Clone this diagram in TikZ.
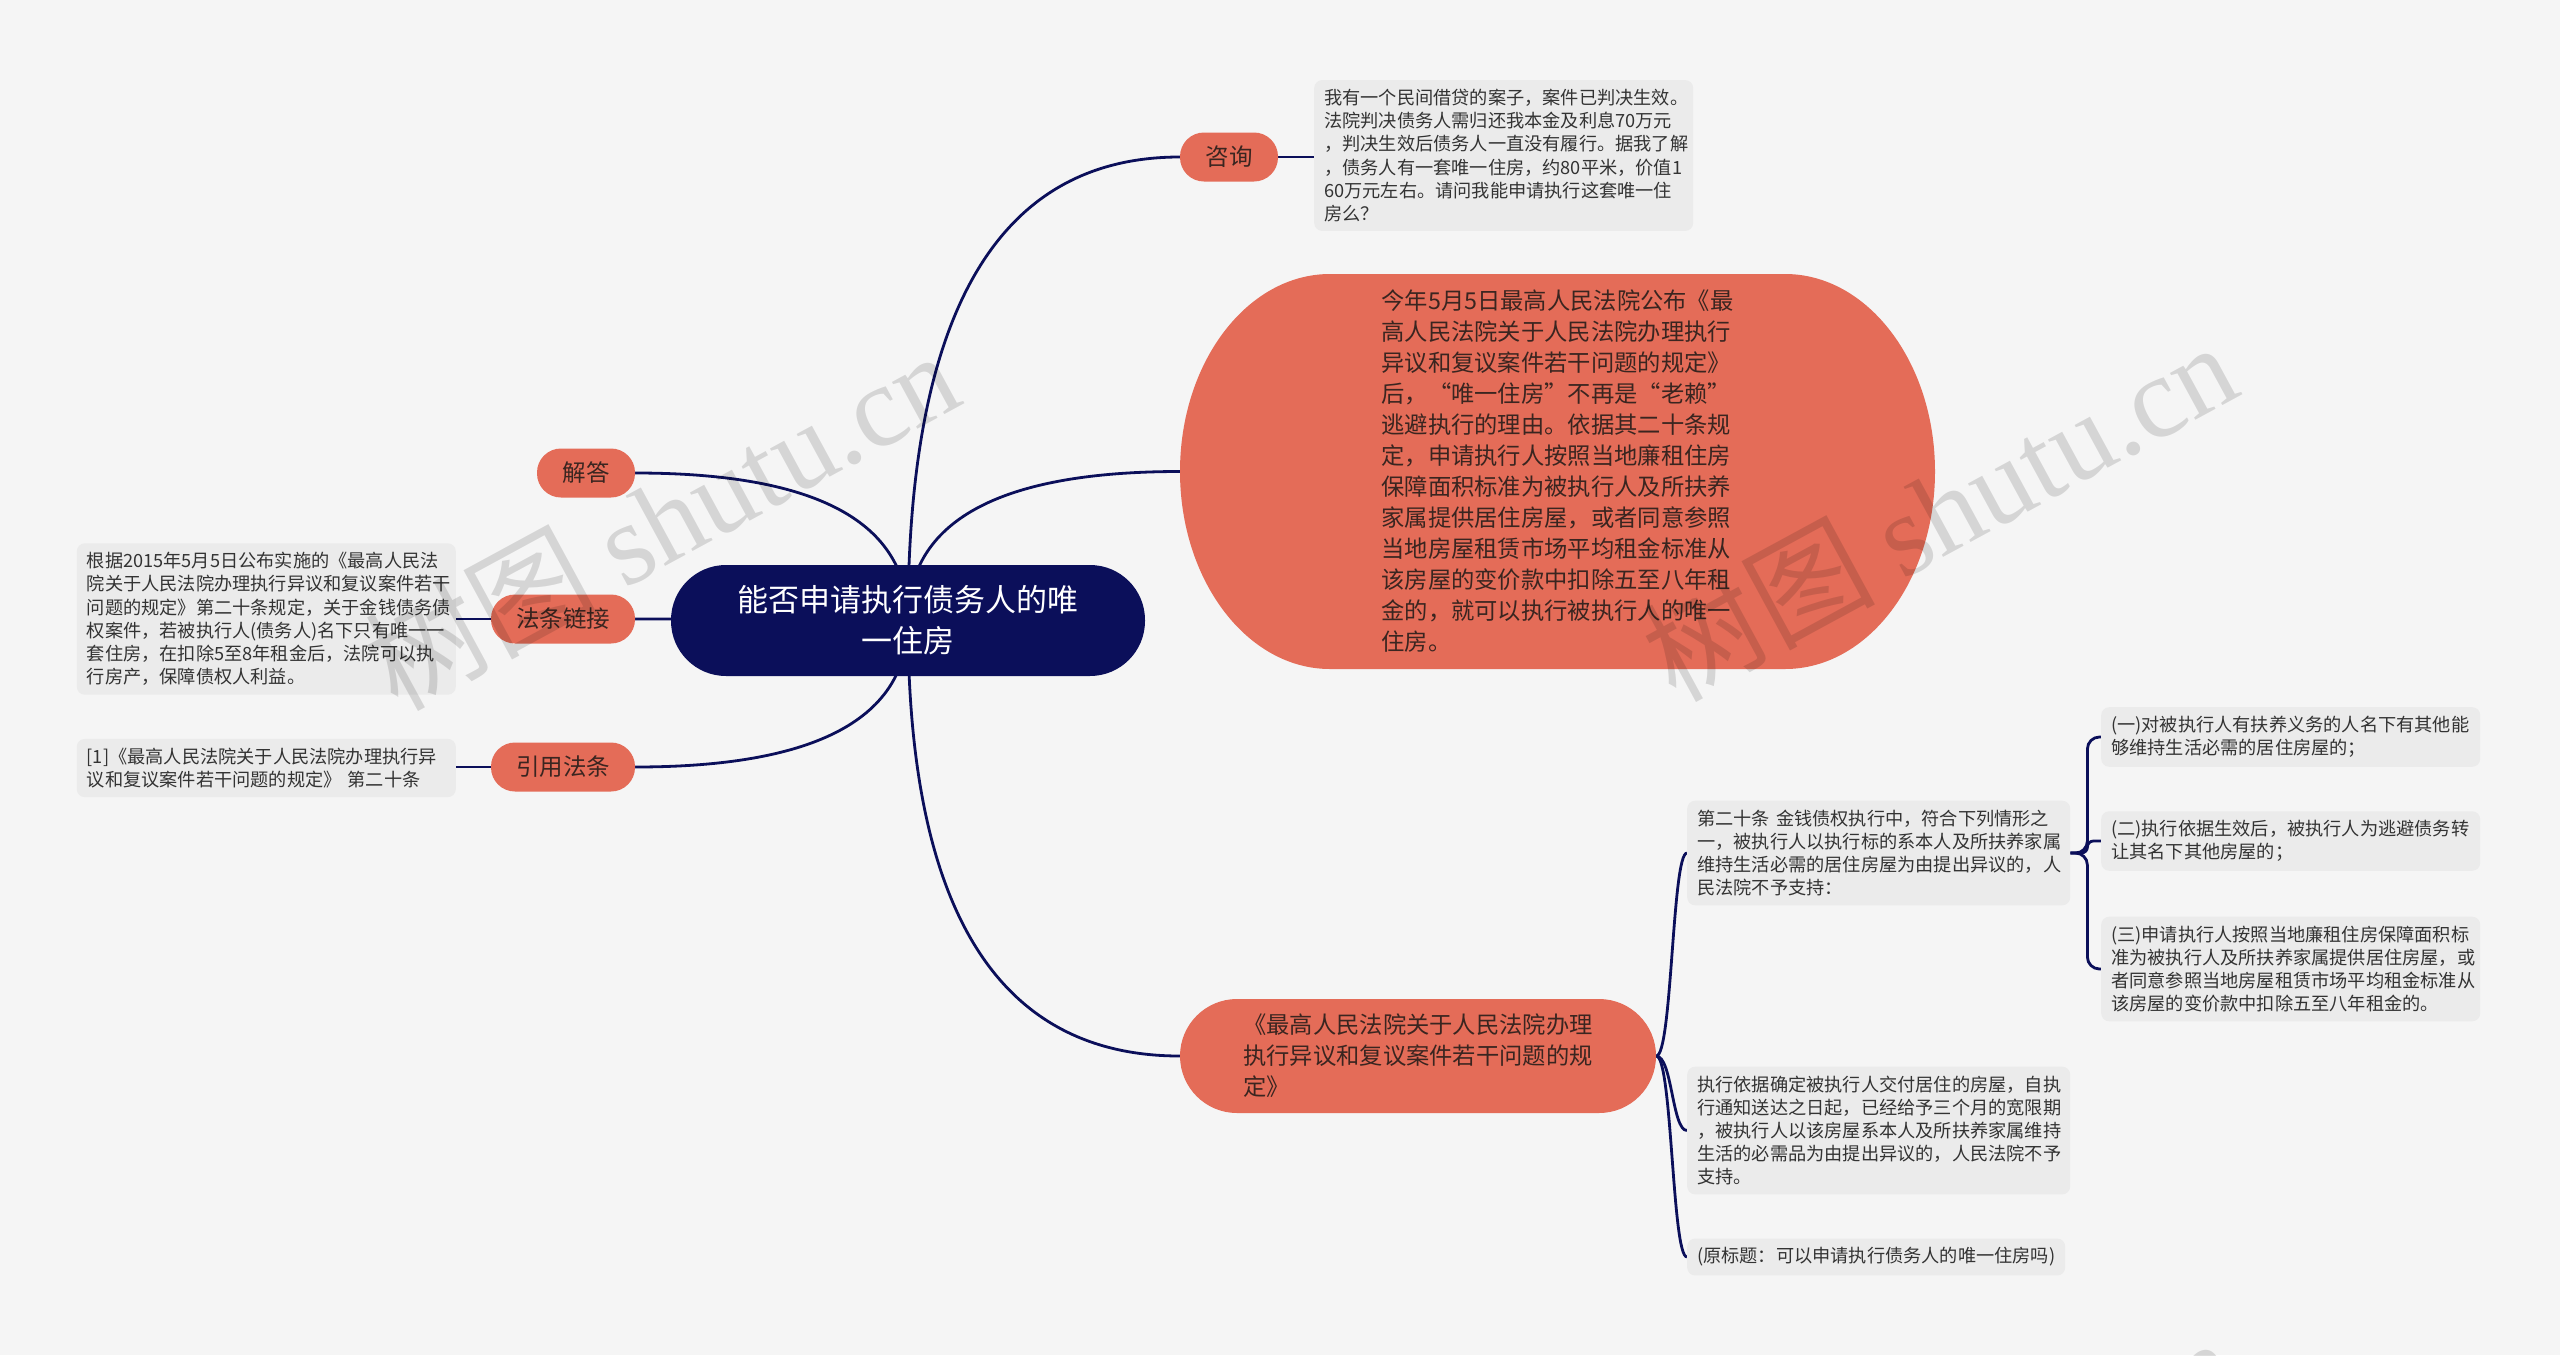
\documentclass[tikz,border=0pt]{standalone}
\usepackage{fontspec}
\setmainfont{Noto Sans CJK SC}
\newfontfamily\wmlatin{Liberation Serif}
\usetikzlibrary{calc}
\definecolor{bgc}{HTML}{F5F5F5}
\definecolor{navy}{HTML}{0B0F5A}
\definecolor{redc}{HTML}{E46C58}
\definecolor{boxc}{HTML}{EBEBEB}
\definecolor{txtc}{HTML}{333333}
\definecolor{redtxt}{HTML}{3A2520}
\pgfdeclarelayer{bg}\pgfdeclarelayer{shape}\pgfsetlayers{bg,shape,main}
\newcommand\leaffont{\fontsize{18.2}{23.2}\selectfont}
\newcommand\midfont{\fontsize{23.3}{31}\selectfont}
\newcommand\rootfont{\fontsize{31}{41}\selectfont}
\newcommand\rootlink[1]{\draw[conn] (root.center) .. controls ($(root.center)!0.667!(root.center|-#1)$) and ($(#1)!0.667!(root.center|-#1)$) .. (#1);}
\begin{document}
\begin{tikzpicture}[x=1pt,y=-1pt,
  conn/.style={draw=navy,line width=2.8pt},
  leaf/.style={fill=boxc,rounded corners=8pt,inner xsep=10pt,inner ysep=9pt,text width=#1,align=left,font=\leaffont,text=txtc},
  leaf/.default=359pt,
  pill/.style={fill=redc,text=redtxt,rounded corners=24pt,minimum height=49pt,inner sep=0pt,font=\fontsize{23.5}{28}\selectfont},
  rootbox/.style={fill=navy,text=white,rounded corners=55pt,minimum width=474pt,minimum height=111pt,inner sep=0pt,align=center,font=\rootfont},
  midtext/.style={align=left,font=\midfont,text=redtxt},
  wm/.style={rotate=28.5,text=black,text opacity=0.13,inner sep=0pt,font=\fontsize{116}{116}\selectfont}
]
\begin{pgfonlayer}{bg}
\fill[bgc] (0,0) rectangle (2560,1355);
\end{pgfonlayer}
\useasboundingbox (0,0) rectangle (2560,1355);

% root
\node[rootbox] (root) at (908,620.5) {能否申请执行债务人的唯\\一住房};

% right branches
\node[pill,minimum width=98pt] (zq) at (1229,157) {咨询};
\node[leaf,anchor=west] (zx) at (1314,155.5) {我有一个民间借贷的案子，案件已判决生效。\\法院判决债务人需归还我本金及利息70万元\\，判决生效后债务人一直没有履行。据我了解\\，债务人有一套唯一住房，约80平米，价值1\\60万元左右。请问我能申请执行这套唯一住\\房么？};

\node[midtext,minimum width=755pt,minimum height=395pt,inner sep=0pt] (big) at (1557.5,471.5) {今年5月5日最高人民法院公布《最\\高人民法院关于人民法院办理执行\\异议和复议案件若干问题的规定》\\后，“唯一住房”不再是“老赖”\\逃避执行的理由。依据其二十条规\\定，申请执行人按照当地廉租住房\\保障面积标准为被执行人及所扶养\\家属提供居住房屋，或者同意参照\\当地房屋租赁市场平均租金标准从\\该房屋的变价款中扣除五至八年租\\金的，就可以执行被执行人的唯一\\住房。};

\node[midtext,fill=redc,rounded corners=57pt,minimum width=476pt,minimum height=114pt,inner sep=0pt] (low) at (1418,1056) {《最高人民法院关于人民法院办理\\执行异议和复议案件若干问题的规\\定》};

\node[leaf=363pt,anchor=west] (b1) at (1687,853) {第二十条 金钱债权执行中，符合下列情形之\\一，被执行人以执行标的系本人及所扶养家属\\维持生活必需的居住房屋为由提出异议的，人\\民法院不予支持：};
\node[leaf=363pt,anchor=west] (b2) at (1687,1130.5) {执行依据确定被执行人交付居住的房屋，自执\\行通知送达之日起，已经给予三个月的宽限期\\，被执行人以该房屋系本人及所扶养家属维持\\生活的必需品为由提出异议的，人民法院不予\\支持。};
\node[leaf=358pt,anchor=west] (b3) at (1687,1257) {(原标题：可以申请执行债务人的唯一住房吗)};

\node[leaf,anchor=west] (c1) at (2101,737) {(一)对被执行人有扶养义务的人名下有其他能\\够维持生活必需的居住房屋的；};
\node[leaf,anchor=west] (c2) at (2101,841) {(二)执行依据生效后，被执行人为逃避债务转\\让其名下其他房屋的；};
\node[leaf,anchor=west] (c3) at (2101,969) {(三)申请执行人按照当地廉租住房保障面积标\\准为被执行人及所扶养家属提供居住房屋，或\\者同意参照当地房屋租赁市场平均租金标准从\\该房屋的变价款中扣除五至八年租金的。};

% left branches
\node[pill,minimum width=98pt] (jd) at (586,473) {解答};
\node[pill,minimum width=144pt] (fl) at (563,619) {法条链接};
\node[leaf,anchor=east] (flx) at (456,619) {根据2015年5月5日公布实施的《最高人民法\\院关于人民法院办理执行异议和复议案件若干\\问题的规定》第二十条规定，关于金钱债务债\\权案件，若被执行人(债务人)名下只有唯一一\\套住房，在扣除5至8年租金后，法院可以执\\行房产，保障债权人利益。};
\node[pill,minimum width=144pt] (yf) at (563,767) {引用法条};
\node[leaf,anchor=east] (yfx) at (456,768) {[1]《最高人民法院关于人民法院办理执行异\\议和复议案件若干问题的规定》 第二十条};

% big red shape
\begin{pgfonlayer}{shape}
\fill[redc] (1330,274) -- (1785,274) .. controls (1867.8,274) and (1935,362.4) .. (1935,471.5)
  .. controls (1935,580.6) and (1867.8,669) .. (1785,669) -- (1330,669)
  .. controls (1247.2,669) and (1180,580.6) .. (1180,471.5)
  .. controls (1180,362.4) and (1247.2,274) .. (1330,274) -- cycle;
\end{pgfonlayer}

% connectors
\begin{pgfonlayer}{bg}
\rootlink{zq.west}
\rootlink{big.west}
\rootlink{low.west}
\rootlink{jd.east}
\rootlink{fl.east}
\rootlink{yf.east}
\draw[conn] (zq.east) -- (zq.east -| zx.west);
\draw[conn] (fl.west) -- (fl.west -| flx.east);
\draw[conn] (yf.west) -- (yf.west -| yfx.east);
\draw[conn] (low.east) .. controls ($(low.east)+(16,0)$) and ($(b1.west)+(-15,0)$) .. (b1.west);
\draw[conn] (low.east) .. controls ($(low.east)+(16,0)$) and ($(b2.west)+(-15,0)$) .. (b2.west);
\draw[conn] (low.east) .. controls ($(low.east)+(16,0)$) and ($(b3.west)+(-15,0)$) .. (b3.west);
\draw[conn,rounded corners=12pt] (b1.east) -- ++(17,0) |- (c1.west);
\draw[conn,rounded corners=6pt] (b1.east) -- ++(17,0) |- (c2.west);
\draw[conn,rounded corners=12pt] (b1.east) -- ++(17,0) |- (c3.west);
\end{pgfonlayer}

% watermarks
\begin{scope}
\clip (0,0) rectangle (2560,1355);
\node[wm] (wm1) at (661,519) {树图 {\wmlatin shutu.cn}};
\node[wm] (wm2) at (1939,510) {树图 {\wmlatin shutu.cn}};
\node[wm] (wm3) at (661,1515) {树图 {\wmlatin shutu.cn}};
\node[wm] (wm4) at (1939,1506) {树图 {\wmlatin shutu.cn}};
\end{scope}
\end{tikzpicture}
\end{document}
